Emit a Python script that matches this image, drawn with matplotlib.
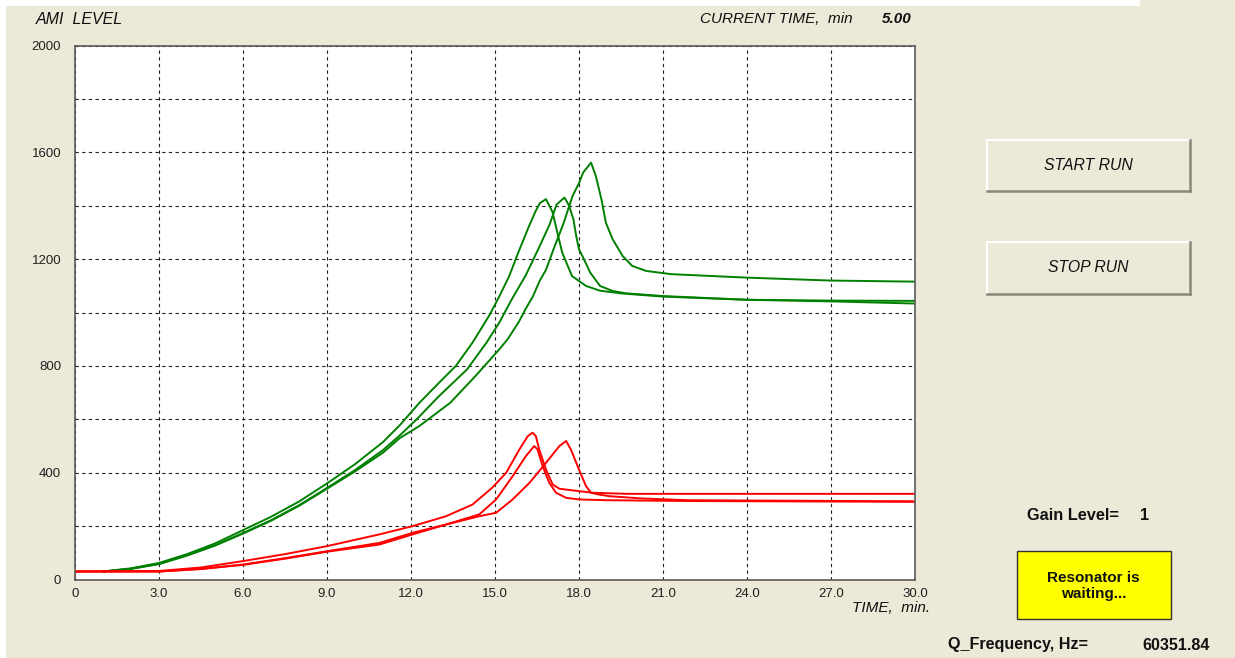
"""AMI level vs time, resonator panel screenshot"""

import matplotlib
matplotlib.use("Agg")
import matplotlib.pyplot as plt
from matplotlib.patches import Rectangle
from matplotlib.lines import Line2D

W, H = 1235, 658
BG = '#ECE9D8'
FONT = 'Liberation Sans'

# green runs (AMI level, min / counts)
g1_t = [1.0, 2.0, 3.0, 4.0, 5.0, 6.0, 7.0, 8.0, 9.0, 10.0, 11.0, 11.6, 12.3, 13.0,
        13.6, 14.2, 14.8, 15.15, 15.5, 15.85, 16.2, 16.45, 16.6, 16.82, 17.05,
        17.25, 17.4, 17.75, 18.25, 18.75, 19.5, 21.0, 24.0, 27.0, 30.0]
g1_v = [30, 42, 62, 95, 135, 185, 235, 292, 360, 432, 515, 578, 662, 737,
        800, 888, 990, 1060, 1135, 1230, 1320, 1380, 1410, 1425, 1378,
        1290, 1225, 1137, 1100, 1082, 1072, 1060, 1048, 1042, 1034]

g2_t = [1.0, 2.0, 3.0, 4.0, 5.0, 6.0, 7.0, 8.0, 9.0, 10.0, 11.0, 11.6, 12.2, 13.0,
        14.0, 14.7, 15.15, 15.6, 16.1, 16.6, 16.95, 17.2, 17.48, 17.65, 17.8,
        17.9, 18.0, 18.15, 18.4, 18.75, 19.2, 19.7, 21.0, 24.0, 27.0, 30.0]
g2_v = [30, 40, 58, 90, 128, 174, 222, 278, 343, 410, 485, 540, 600, 687,
        787, 888, 962, 1050, 1140, 1250, 1330, 1405, 1431, 1400, 1350,
        1287, 1237, 1206, 1150, 1100, 1081, 1072, 1062, 1048, 1045, 1044]

g3_t = [1.0, 2.0, 3.0, 4.0, 5.0, 6.0, 7.0, 8.0, 9.0, 10.0, 11.0, 11.6, 12.3, 13.4,
        14.3, 15.15, 15.45, 15.85, 16.1, 16.35, 16.6, 16.82, 17.1, 17.45, 17.77,
        18.0, 18.15, 18.43, 18.6, 18.8, 18.96, 19.2, 19.56, 19.9, 20.4, 21.3,
        24.0, 27.0, 30.0]
g3_v = [30, 40, 58, 90, 127, 172, 220, 276, 340, 405, 475, 530, 575, 662,
        762, 862, 900, 965, 1015, 1060, 1120, 1160, 1240, 1335, 1437,
        1485, 1525, 1562, 1512, 1425, 1337, 1275, 1212, 1175, 1156, 1144,
        1131, 1120, 1116]

# red runs
r1_t = [0.0, 0.0, 3.0, 4.5, 6.0, 7.5, 9.0, 10.87, 12.06, 13.25, 14.2, 14.9, 15.4,
        15.87, 16.17, 16.34, 16.46, 16.58, 16.82, 17.06, 17.3, 18.0, 18.5, 19.7,
        24.0, 30.0]
r1_v = [0, 30, 32, 45, 69, 95, 125, 169, 200, 237, 281, 344, 400,
        487, 537, 550, 537, 487, 412, 356, 340, 331, 325, 321,
        321, 321]

r2_t = [0.0, 3.0, 4.5, 6.0, 7.5, 9.0, 10.87, 12.06, 13.25, 14.44, 15.04, 15.63,
        16.1, 16.4, 16.52, 16.7, 16.94, 17.18, 17.54, 18.0, 19.0, 22.0, 30.0]
r2_v = [30, 30, 40, 56, 80, 106, 137, 175, 206, 244, 300, 387,
        462, 500, 487, 425, 362, 325, 306, 300, 297, 294, 291]

r3_t = [0.0, 3.0, 4.5, 6.0, 7.5, 9.0, 10.87, 12.06, 13.25, 14.44, 15.04, 15.63,
        16.23, 16.82, 17.3, 17.54, 17.71, 18.0, 18.25, 18.43, 18.73, 19.1, 20.2,
        21.9, 30.0]
r3_v = [30, 30, 39, 55, 78, 104, 131, 169, 206, 237, 250, 300,
        362, 437, 500, 519, 487, 412, 350, 325, 318, 312, 304,
        297, 293]

x_ticks = [0, 3, 6, 9, 12, 15, 18, 21, 24, 27, 30]
x_labels = ['0', '3.0', '6.0', '9.0', '12.0', '15.0', '18.0', '21.0', '24.0', '27.0', '30.0']
y_ticks = [0, 400, 800, 1200, 1600, 2000]
y_grid = [200, 600, 1000, 1400, 1800]


def fx(px):
    return px / W


def fy(py):
    return 1 - py / H


fig = plt.figure(figsize=(W / 100, H / 100), dpi=100, facecolor=BG)

# white screenshot edge on top / left
fig.patches.append(Rectangle((0, fy(6)), fx(1140), 6 / H, transform=fig.transFigure,
                             facecolor='white', edgecolor='none'))
fig.patches.append(Rectangle((0, 0), fx(6), 1, transform=fig.transFigure,
                             facecolor='white', edgecolor='none'))

ax = fig.add_axes([fx(75), fy(579.5), 840 / W, 533.8 / H])
ax.set_facecolor('white')

for t, v in [(g1_t, g1_v), (g2_t, g2_v), (g3_t, g3_v)]:
    ax.plot(t, v, color='#008000', lw=1.4, solid_joinstyle='round')
for t, v in [(r1_t, r1_v), (r2_t, r2_v), (r3_t, r3_v)]:
    ax.plot(t, v, color='#FF0000', lw=1.4, solid_joinstyle='round')

ax.set_xlim(0, 30)
ax.set_ylim(0, 2000)
ax.set_xticks(x_ticks)
ax.set_xticklabels(x_labels)
ax.set_yticks(y_ticks)
ax.set_yticks(y_grid, minor=True)
ax.tick_params(axis='both', which='both', length=0, labelsize=9.5, colors='#202020')
ax.tick_params(axis='x', pad=6)
ax.tick_params(axis='y', pad=10)
for lab in ax.get_xticklabels() + ax.get_yticklabels():
    lab.set_family(FONT)

grid_kw = dict(color='#222222', lw=0.8, linestyle=(0, (3, 3)))
ax.grid(True, which='both', **grid_kw)
ax.set_axisbelow(True)
for sp in ax.spines.values():
    sp.set_color('#5a5a5a')
    sp.set_linewidth(1.2)

# panel texts
fig.text(fx(36), fy(19.5), 'AMI  LEVEL', family=FONT, style='italic', fontsize=11.5,
         ha='left', va='center', color='#111111')
fig.text(fx(700), fy(19), 'CURRENT TIME,  min', family=FONT, style='italic', fontsize=11,
         ha='left', va='center', color='#111111')
fig.text(fx(912), fy(19), '5.00', family=FONT, style='italic', weight='bold', fontsize=11,
         ha='right', va='center', color='#111111')
fig.text(fx(930), fy(608), 'TIME,  min.', family=FONT, style='italic', fontsize=11,
         ha='right', va='center', color='#111111')


def button(x0, y0, x1, y1, label):
    fig.patches.append(Rectangle((fx(x0), fy(y1)), fx(x1) - fx(x0), fy(y0) - fy(y1),
                                 transform=fig.transFigure, facecolor=BG, edgecolor='none'))
    # light top/left, dark bottom/right edges
    fig.lines.append(Line2D([fx(x0), fx(x1)], [fy(y0), fy(y0)], transform=fig.transFigure,
                            color='white', lw=1.5))
    fig.lines.append(Line2D([fx(x0), fx(x0)], [fy(y0), fy(y1)], transform=fig.transFigure,
                            color='white', lw=1.5))
    fig.lines.append(Line2D([fx(x0), fx(x1)], [fy(y1), fy(y1)], transform=fig.transFigure,
                            color='#8a8778', lw=1.8))
    fig.lines.append(Line2D([fx(x1), fx(x1)], [fy(y0), fy(y1)], transform=fig.transFigure,
                            color='#8a8778', lw=1.8))
    fig.text(fx((x0 + x1) / 2), fy((y0 + y1) / 2), label, family=FONT, style='italic',
             fontsize=11.3, ha='center', va='center', color='#111111')


button(987, 139.5, 1190, 190.5, 'START RUN')
button(987, 242.5, 1190, 293.5, 'STOP RUN')

fig.text(fx(1027), fy(516), 'Gain Level=', family=FONT, weight='bold', fontsize=11.8,
         ha='left', va='center', color='#111111')
fig.text(fx(1149), fy(516), '1', family=FONT, weight='bold', fontsize=11.8,
         ha='right', va='center', color='#111111')

fig.patches.append(Rectangle((fx(1016.5), fy(619)), fx(1170.5) - fx(1016.5), fy(551) - fy(619),
                             transform=fig.transFigure, facecolor='#FFFF00',
                             edgecolor='#333333', lw=1.0))
fig.text(fx(1093.5), fy(586), 'Resonator is\nwaiting...', family=FONT, weight='bold',
         fontsize=11, ha='center', va='center', color='#111111', linespacing=1.2)

fig.text(fx(948), fy(645), 'Q_Frequency, Hz=', family=FONT, weight='bold', fontsize=11.6,
         ha='left', va='center', color='#111111')
fig.text(fx(1210), fy(645), '60351.84', family=FONT, weight='bold', fontsize=11.6,
         ha='right', va='center', color='#111111')

fig.savefig('out.png', dpi=100, facecolor=BG)
